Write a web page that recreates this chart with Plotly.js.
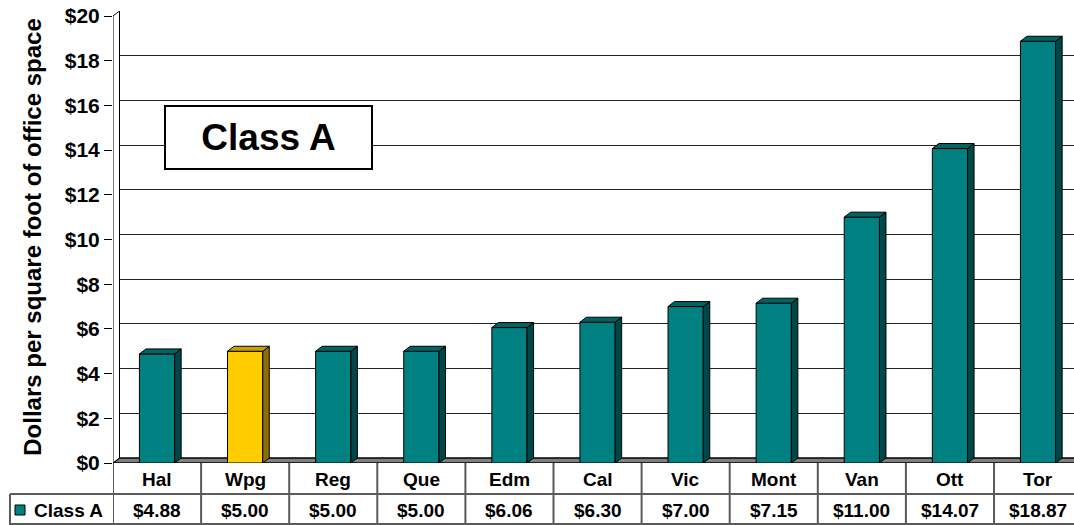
<!DOCTYPE html>
<html>
<head>
<meta charset="utf-8">
<script src="https://cdn.plot.ly/plotly-3.0.1.min.js"></script>
<style>html,body{margin:0;padding:0;background:#fff;}#chart{width:1074px;height:525px;}</style>
</head>
<body>
<div id="chart"></div>
<script>
// ---- data ----
const cities = ["Hal", "Wpg", "Reg", "Que", "Edm", "Cal", "Vic", "Mont", "Van", "Ott", "Tor"];
const classA = [4.88, 5.00, 5.00, 5.00, 6.06, 6.30, 7.00, 7.15, 11.00, 14.07, 18.87];
const valueLabels = ["$4.88", "$5.00", "$5.00", "$5.00", "$6.06", "$6.30", "$7.00", "$7.15", "$11.00", "$14.07", "$18.87"];
const highlight = "Wpg";
const seriesName = "Class A";
const yTitle = "Dollars per square foot of office space";

// ---- styling / geometry ----
const W = 1074, H = 525;
const mL = 113, mR = 0, mT = 11, mB = 62;
const plotW = W - mL - mR, plotH = H - mT - mB;
const yMaxVal = 20;
const pxPerY = 447 / yMaxVal;          // vertical scale
const catPx = 88.1;                    // horizontal px per category
const depthX = 6.5, depthY = 5;        // 3D depth in px
const dxu = depthX / catPx, dyu = depthY / pxPerY;
const xMin = -0.5, xMax = xMin + plotW / catPx;
const yTop = plotH / pxPerY;
const barW = 0.4;
const FONT = "Liberation Sans, Arial, sans-serif";

const frontCols = cities.map(c => c === highlight ? "#FFCC00" : "#008080");
const sideCols  = cities.map(c => c === highlight ? "#8C7000" : "#004848");
const topCols   = cities.map(c => c === highlight ? "#C9A000" : "#006464");

const xs = cities.map((c, i) => i);
const traces = [];
traces.push({
  type: "bar", x: xs, y: classA, width: barW, name: seriesName,
  marker: {color: frontCols, line: {color: "#000", width: 1}},
  hoverinfo: "skip", showlegend: false
});
xs.forEach((x, i) => {
  const v = classA[i], r = x + barW / 2, l = x - barW / 2;
  traces.push({
    type: "scatter", mode: "lines", fill: "toself", fillcolor: sideCols[i],
    x: [r, r + dxu, r + dxu, r, r], y: [0, dyu, v + dyu, v, 0],
    line: {color: "#000", width: 1}, hoverinfo: "skip", showlegend: false
  });
  traces.push({
    type: "scatter", mode: "lines", fill: "toself", fillcolor: topCols[i],
    x: [l, l + dxu, r + dxu, r, l], y: [v, v + dyu, v + dyu, v, v],
    line: {color: "#000", width: 1}, hoverinfo: "skip", showlegend: false
  });
});
// empty trace so the back-wall grid axis exists
traces.push({type: "scatter", x: [], y: [], xaxis: "x", yaxis: "y2", hoverinfo: "skip", showlegend: false});

// pixel -> paper helpers
const px = X => (X - mL) / plotW;
const py = Y => (H - mB - Y) / plotH;

const shapes = [];
// floor
shapes.push({type: "path", xref: "x", yref: "y", layer: "between",
  path: `M ${xMin},0 L ${xMin + dxu},${dyu} L ${xMax + 1},${dyu} L ${xMax + 1},0 Z`,
  fillcolor: "#808080", line: {color: "#000", width: 1.5}});
// left wall
shapes.push({type: "path", xref: "x", yref: "y", layer: "between",
  path: `M ${xMin},0 L ${xMin + dxu},${dyu} L ${xMin + dxu},${yMaxVal + dyu} L ${xMin},${yMaxVal} Z`,
  fillcolor: "#fff", line: {color: "#000", width: 1}});
// table lines
const tcol = "#5a5a5a";
for (let k = 0; k <= cities.length; k++) {
  shapes.push({type: "line", xref: "x", yref: "paper", x0: k - 0.5, x1: k - 0.5, y0: 0, y1: py(525),
    line: {color: tcol, width: 2}});
}
shapes.push({type: "line", xref: "paper", yref: "paper", x0: px(10), x1: 1, y0: py(494), y1: py(494), line: {color: tcol, width: 2}});
shapes.push({type: "line", xref: "paper", yref: "paper", x0: px(10), x1: px(10), y0: py(494), y1: py(525), line: {color: tcol, width: 2}});
shapes.push({type: "line", xref: "paper", yref: "paper", x0: px(10), x1: 1, y0: py(524), y1: py(524), line: {color: tcol, width: 2}});
// legend swatch
shapes.push({type: "rect", xref: "paper", yref: "paper", x0: px(15), x1: px(25), y0: py(515), y1: py(505),
  fillcolor: "#008080", line: {color: "#000", width: 1}});

const annotations = [];
cities.forEach((c, i) => {
  annotations.push({xref: "x", yref: "paper", x: i, y: py(479), text: c, showarrow: false,
    font: {family: FONT, size: 19, color: "#000", weight: "bold"}, xanchor: "center", yanchor: "middle"});
  annotations.push({xref: "x", yref: "paper", x: i, y: py(510), text: valueLabels[i], showarrow: false,
    font: {family: FONT, size: 19, color: "#000", weight: "bold"}, xanchor: "center", yanchor: "middle"});
});
annotations.push({xref: "paper", yref: "paper", x: px(32), y: py(510), text: seriesName, showarrow: false,
  font: {family: FONT, size: 19, color: "#000", weight: "bold"}, xanchor: "left", yanchor: "middle"});
annotations.push({xref: "paper", yref: "paper", x: px(268), y: py(137), text: seriesName, showarrow: false,
  font: {family: FONT, size: 37, color: "#000", weight: "bold"}, xanchor: "center", yanchor: "middle",
  bgcolor: "#fff", bordercolor: "#000", borderwidth: 2, borderpad: 0, width: 205, height: 61});

const layout = {
  width: W, height: H,
  margin: {l: mL, r: mR, t: mT, b: mB, pad: 0},
  paper_bgcolor: "#fff", plot_bgcolor: "#fff",
  showlegend: false,
  xaxis: {range: [xMin, xMax], showticklabels: false, ticks: "", showgrid: false, zeroline: false, showline: false, fixedrange: true},
  yaxis: {range: [0, yTop], tickmode: "linear", tick0: 0, dtick: 2, tickprefix: "$",
    ticks: "outside", ticklen: 8, tickcolor: "#000", tickwidth: 1,
    showgrid: false, zeroline: false, showline: false,
    tickfont: {family: FONT, size: 21, color: "#000", weight: "bold"},
    title: {text: yTitle, standoff: 16, font: {family: FONT, size: 24, color: "#000", weight: "bold"}},
    fixedrange: true},
  yaxis2: {overlaying: "y", side: "left", range: [-dyu, yTop - dyu], tickmode: "linear", tick0: 0, dtick: 2,
    showticklabels: false, ticks: "", showgrid: true, gridcolor: "#222", gridwidth: 1, zeroline: false, showline: false, fixedrange: true},
  shapes: shapes,
  annotations: annotations,
  bargap: 0
};

Plotly.newPlot("chart", traces, layout, {staticPlot: true, displayModeBar: false});
</script>
</body>
</html>
